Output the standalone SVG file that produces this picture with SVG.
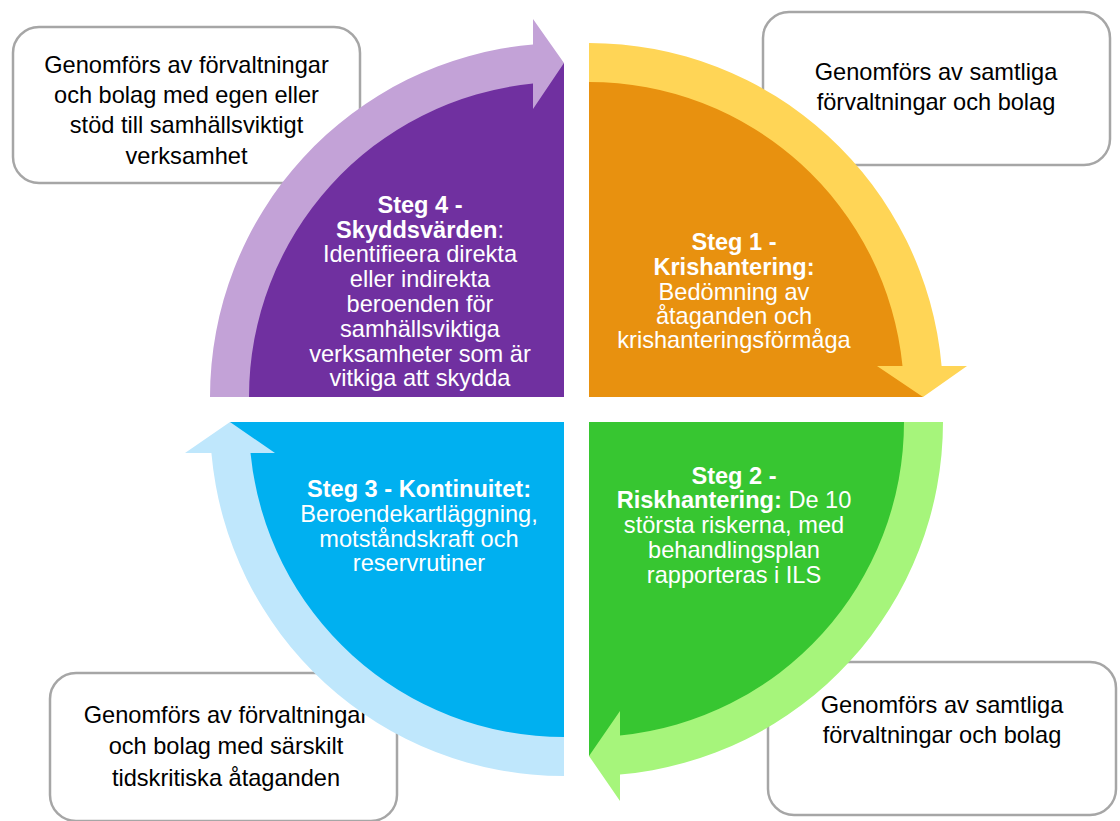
<svg xmlns="http://www.w3.org/2000/svg" width="1120" height="821" viewBox="0 0 1120 821">
<style>
.box{fill:#fff;stroke:#a6a6a6;stroke-width:2.5}
.bt{font-family:"Liberation Sans",Arial,sans-serif;font-size:23.6px;fill:#000;text-anchor:middle}
.qt{font-family:"Liberation Sans",Arial,sans-serif;font-size:23.6px;fill:#fff;text-anchor:middle}
.b{font-weight:bold}
</style>
<rect width="1120" height="821" fill="#fff"/>
<g id="note-top-left">
<rect class="box" x="13" y="27" width="347" height="156" rx="26"/>
<text class="bt"><tspan x="186.5" y="73">Genomförs av förvaltningar</tspan><tspan x="186.5" y="103">och bolag med egen eller</tspan><tspan x="186.5" y="133">stöd till samhällsviktigt</tspan><tspan x="186.5" y="164">verksamhet</tspan></text>
</g>
<g id="note-top-right">
<rect class="box" x="763" y="12" width="347" height="153" rx="26"/>
<text class="bt"><tspan x="936" y="80">Genomförs av samtliga</tspan><tspan x="936" y="110">förvaltningar och bolag</tspan></text>
</g>
<g id="note-bottom-right">
<rect class="box" x="768" y="662" width="348" height="153" rx="26"/>
<text class="bt"><tspan x="942" y="713">Genomförs av samtliga</tspan><tspan x="942" y="743">förvaltningar och bolag</tspan></text>
</g>
<g id="note-bottom-left">
<rect class="box" x="50" y="673" width="347" height="148" rx="26"/>
<text class="bt"><tspan x="226" y="723">Genomförs av förvaltningar</tspan><tspan x="226" y="754">och bolag med särskilt</tspan><tspan x="226" y="786">tidskritiska åtaganden</tspan></text>
</g>
<g id="steg1">
<path d="M589,397 L589,63 A334,334 0 0 1 923,397 Z" fill="#e8910f"/>
<text class="qt"><tspan class="b" x="734" y="250">Steg 1 -</tspan><tspan class="b" x="734" y="275">Krishantering:</tspan><tspan x="734" y="300">Bedömning av</tspan><tspan x="734" y="324">åtaganden och</tspan><tspan x="734" y="348">krishanteringsförmåga</tspan></text>
</g>
<g id="steg2">
<path d="M589,422 L923,422 A334,334 0 0 1 589,756 Z" fill="#37c631"/>
<text class="qt"><tspan class="b" x="734" y="484">Steg 2 -</tspan><tspan x="734" y="508"><tspan class="b">Riskhantering:</tspan> De 10</tspan><tspan x="734" y="533">största riskerna, med</tspan><tspan x="734" y="558">behandlingsplan</tspan><tspan x="734" y="583">rapporteras i ILS</tspan></text>
</g>
<g id="steg3">
<path d="M564,422 L564,756 A334,334 0 0 1 230,422 Z" fill="#00b0f0"/>
<text class="qt"><tspan class="b" x="419" y="497">Steg 3 - Kontinuitet:</tspan><tspan x="419" y="522">Beroendekartläggning,</tspan><tspan x="419" y="547">motståndskraft och</tspan><tspan x="419" y="571">reservrutiner</tspan></text>
</g>
<g id="steg4">
<path d="M564,397 L230,397 A334,334 0 0 1 564,63 Z" fill="#7030a0"/>
<text class="qt"><tspan class="b" x="420" y="213">Steg 4 -</tspan><tspan x="420" y="238"><tspan class="b">Skyddsvärden</tspan>:</tspan><tspan x="420" y="262">Identifieera direkta</tspan><tspan x="420" y="287">eller indirekta</tspan><tspan x="420" y="312">beroenden för</tspan><tspan x="420" y="337">samhällsviktiga</tspan><tspan x="420" y="362">verksamheter som är</tspan><tspan x="420" y="386">vitkiga att skydda</tspan></text>
</g>
<g id="connectors">
<path d="M589,43 A354,354 0 0 1 941.6,366 L967,366 L923,397 L877,366 L902.5,366 A315,315 0 0 0 589,82 Z" fill="#ffd556"/>
<path d="M943,422 A354,354 0 0 1 620,774.6 L620,801 L589,756 L620,711 L620,735.5 A315,315 0 0 0 904,422 Z" fill="#a6f57b"/>
<path d="M564,776 A354,354 0 0 1 211.4,453 L185,453 L230,422 L275,453 L250.5,453 A315,315 0 0 0 564,737 Z" fill="#bfe7fc"/>
<path d="M210,397 A354,354 0 0 1 533,44.4 L533,19 L564,63 L533,109 L533,83.5 A315,315 0 0 0 249,397 Z" fill="#c3a2d7"/>
</g>
</svg>
